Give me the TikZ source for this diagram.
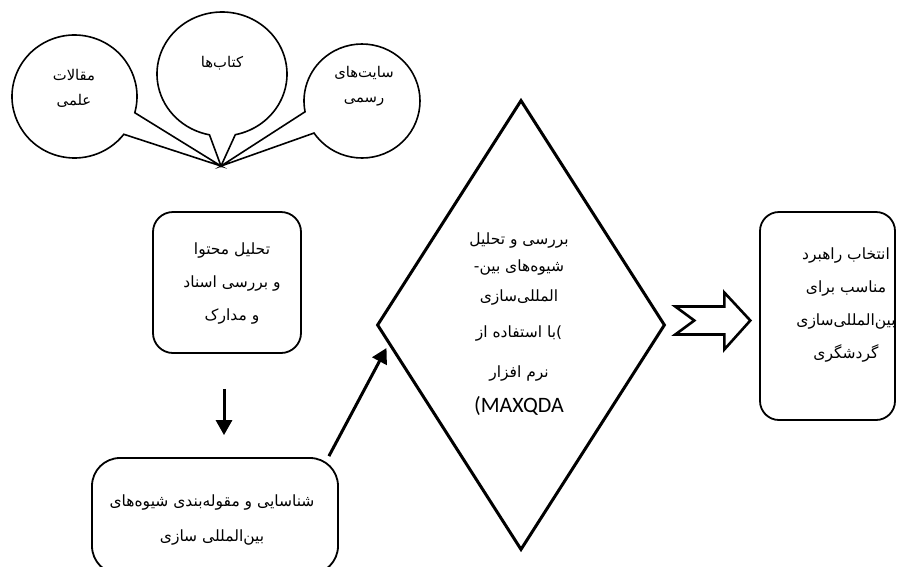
\documentclass[tikz,border=0pt]{standalone}
\usepackage{fontspec}
\newfontfamily\fa[Script=Arabic]{DejaVu Sans}
\newfontfamily\la{Carlito}
\TeXXeTstate=1
\usetikzlibrary{arrows.meta,shapes.geometric,calc}
\newcommand\RL[1]{\beginR #1\endR}
\tikzset{
  bubble/.style={line width=1.6pt, line join=miter},
  boxshape/.style={draw, line width=1.8pt, rectangle, inner sep=0pt},
  txt/.style={font=\fa\fontsize{15.5}{33}\selectfont, align=center, inner sep=0pt},
  ctxt/.style={font=\fa\fontsize{14.8}{25}\selectfont, align=center, inner sep=0pt},
  arr/.style={line width=3pt, -{Triangle[length=15pt,width=16pt]}},
  blockarrow/.style={draw, line width=2.6pt, line join=miter, fill=white}
}
\begin{document}
\begin{tikzpicture}[x=1pt,y=-1pt]
\useasboundingbox (0,0) rectangle (897,566);
\clip (0,0) rectangle (897,566);
% callout bubbles
\coordinate (tip) at (221,166);
\coordinate (cL) at (74.5,96.5);
\coordinate (cM) at (222,74);
\coordinate (cR) at (362,101);
\draw[bubble] (tip) -- ($(cL)+(15.3:62.5 and 61.5)$)
  arc[start angle=15.3, end angle=-322.1, x radius=62.5, y radius=61.5] -- cycle;
\draw[bubble] (tip) -- ($(cM)+(78.2:65 and 62)$)
  arc[start angle=78.2, end angle=-258.9, x radius=65, y radius=62] -- cycle;
\draw[bubble] (tip) -- ($(cR)+(145.8:58 and 57)$)
  arc[start angle=145.8, end angle=-190.9, x radius=58, y radius=57] -- cycle;
\node[ctxt] (tL) at (74,88) {\RL{مقالات}\\\RL{علمی}};
\node[ctxt] (tM) at (222,63) {\RL{کتاب^^^^200cها}};
\node[ctxt] (tR) at (364,86) {\RL{سایت^^^^200cهای}\\\RL{رسمی}};
% boxes
\node[boxshape, rounded corners=20pt, minimum width=148pt, minimum height=141pt] (b1) at (227,282.5) {};
\node[txt] (t1) at (232,283) {\RL{تحلیل محتوا}\\\RL{و بررسی اسناد}\\\RL{و مدارک}};
\node[boxshape, rounded corners=28pt, minimum width=246pt, minimum height=116pt] (b2) at (215,516) {};
\node[txt] (t2) at (212,520) {\RL{شناسایی و مقوله^^^^200cبندی شیوه^^^^200cهای}\\[2pt]\RL{بین^^^^200cالمللی سازی}};
\node[boxshape, rounded corners=19pt, minimum width=135pt, minimum height=208pt] (b3) at (827.5,316) {};
\node[txt] (t3) at (846,305) {\RL{انتخاب راهبرد}\\\RL{مناسب برای}\\\RL{بین^^^^200cالمللی^^^^200cسازی}\\\RL{گردشگری}};
% diamond
\node[diamond, draw, line width=3pt, aspect=0.64, minimum width=288pt, minimum height=450pt, inner sep=0pt] (dm) at (521,325) {};
\node[txt] (td) at (519,324) {\RL{بررسی و تحلیل}\\[-6pt]-\RL{شیوه^^^^200cهای بین}\\[-3pt]\RL{المللی^^^^200cسازی}\\[3pt]\RL{با استفاده از})\\[7pt]\RL{نرم افزار}\\[2pt]{\la\fontsize{22}{33}\selectfont (MAXQDA}};
% arrows
\draw[arr] ($(b1.south)+(-3,35)$) -- ($(b2.north)+(9,-22)$);
\draw[arr] ($(b2.north east)+(-10,-1)$) -- ($(dm.west)+(11,23)$);
\coordinate (ba) at ($(dm.east)!0.5!(b3.west)$);
\draw[blockarrow] ($(ba)+(-37.5,-14)$) -- ++(49,0) -- ++(0,-14) -- ++(26,28) -- ++(-26,29)
  -- ++(0,-15) -- ++(-49,0) -- ++(19,-14) -- cycle;
\end{tikzpicture}
\end{document}
